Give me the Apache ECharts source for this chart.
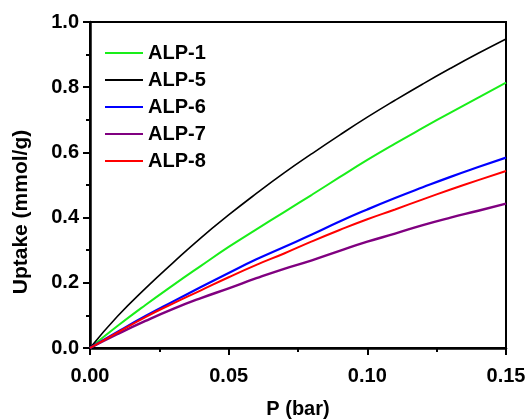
<!DOCTYPE html>
<html>
<head>
<meta charset="utf-8">
<script src="https://cdn.jsdelivr.net/npm/echarts@6/dist/echarts.min.js"></script>
<style>
  html, body { margin: 0; padding: 0; background: #fff; }
  #chart { width: 528px; height: 419px; }
</style>
</head>
<body>
<div id="chart"></div>
<script>
// pressure (bar)
const pressure = [0, 0.01, 0.02, 0.03, 0.04, 0.05, 0.06, 0.07, 0.08, 0.09, 0.10, 0.11, 0.12, 0.13, 0.14, 0.15];
// uptake (mmol/g)
const alp1 = [0, 0.068, 0.132, 0.193, 0.252, 0.31, 0.364, 0.417, 0.47, 0.524, 0.577, 0.627, 0.675, 0.722, 0.768, 0.814];
const alp5 = [0, 0.098, 0.183, 0.262, 0.338, 0.408, 0.474, 0.537, 0.596, 0.653, 0.708, 0.76, 0.81, 0.858, 0.904, 0.948];
const alp6 = [0, 0.05, 0.098, 0.143, 0.187, 0.23, 0.272, 0.31, 0.348, 0.388, 0.425, 0.46, 0.493, 0.525, 0.555, 0.584];
const alp7 = [0, 0.043, 0.083, 0.12, 0.153, 0.183, 0.214, 0.243, 0.269, 0.298, 0.326, 0.351, 0.377, 0.40, 0.421, 0.443];
const alp8 = [0, 0.048, 0.095, 0.137, 0.177, 0.217, 0.255, 0.29, 0.327, 0.362, 0.395, 0.425, 0.456, 0.486, 0.515, 0.543];

const names = ["ALP-1", "ALP-5", "ALP-6", "ALP-7", "ALP-8"];
const colors = ["#19ee19", "#000000", "#0000ff", "#800080", "#ff0000"];
const widths = [2, 1.6, 2.2, 2.4, 2];
const values = [alp1, alp5, alp6, alp7, alp8];

const font = "Arial, 'Liberation Sans', sans-serif";

var chart = echarts.init(document.getElementById("chart"));

const series = names.map((n, i) => ({
  name: n,
  type: "line",
  symbol: "none",
  smooth: true,
  data: pressure.map((p, j) => [p, values[i][j]]),
  lineStyle: { color: colors[i], width: widths[i] },
  itemStyle: { color: colors[i] }
}));

chart.setOption({
  animation: false,
  grid: {
    left: 90, top: 22, right: 22, bottom: 71,
    outerBoundsMode: "none",
    show: true, borderColor: "#000", borderWidth: 2
  },
  legend: {
    orient: "vertical",
    left: 100,
    top: 38,
    itemWidth: 38,
    itemHeight: 20,
    itemGap: 7,
    icon: "path://M0,4 L38,4 L38,6 L0,6 Z",
    data: names,
    textStyle: { fontFamily: font, fontWeight: "bold", fontSize: 20, color: "#000" }
  },
  xAxis: {
    type: "value",
    min: 0, max: 0.15, interval: 0.05,
    name: "P (bar)",
    nameLocation: "middle",
    nameGap: 51,
    nameTextStyle: { fontFamily: font, fontWeight: "bold", fontSize: 20, color: "#000" },
    axisLine: { show: true, lineStyle: { color: "#000", width: 2.5 } },
    axisTick: { show: true, length: 7, lineStyle: { color: "#000", width: 2 } },
    minorTick: { show: true, splitNumber: 2, length: 4, lineStyle: { color: "#000", width: 2 } },
    splitLine: { show: false },
    axisLabel: {
      margin: 18,
      fontFamily: font, fontWeight: "bold", fontSize: 20, color: "#000",
      formatter: v => v.toFixed(2)
    }
  },
  yAxis: {
    type: "value",
    min: 0, max: 1, interval: 0.2,
    axisLine: { show: true, lineStyle: { color: "#000", width: 2.5 } },
    axisTick: { show: true, length: 7, lineStyle: { color: "#000", width: 2 } },
    minorTick: { show: true, splitNumber: 2, length: 4, lineStyle: { color: "#000", width: 2 } },
    splitLine: { show: false },
    axisLabel: {
      margin: 11,
      fontFamily: font, fontWeight: "bold", fontSize: 20, color: "#000",
      formatter: v => v.toFixed(1)
    }
  },
  graphic: [{
    type: "text",
    x: 21, y: 212,
    rotation: Math.PI / 2,
    style: {
      text: "Uptake (mmol/g)",
      fontFamily: font, fontWeight: "bold", fontSize: 21, fill: "#000",
      align: "center", verticalAlign: "middle"
    }
  }],
  series: series
});
</script>
</body>
</html>
